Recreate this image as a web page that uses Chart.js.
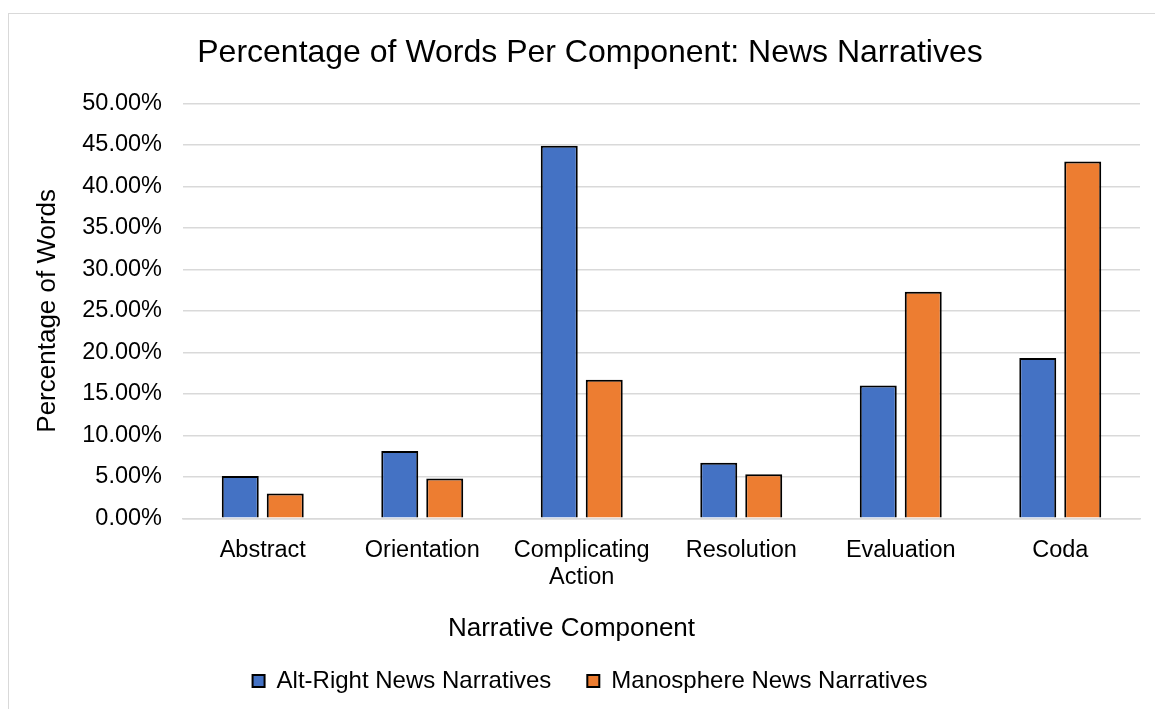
<!DOCTYPE html>
<html>
<head>
<meta charset="utf-8">
<script src="https://cdn.jsdelivr.net/npm/chart.js@4.4.1/dist/chart.umd.min.js"></script>
<style>
  html, body { margin: 0; padding: 0; background: #ffffff; overflow: hidden; width: 1155px; height: 709px; }
  #frame { position: absolute; left: 8px; top: 13px; width: 1200px; height: 720px;
           border-left: 1px solid #d9d9d9; border-top: 1px solid #d9d9d9; background: #fff; }
  #c { position: absolute; left: 0; top: 0; }
</style>
</head>
<body>
<div id="frame"><canvas id="c" width="1162" height="695"></canvas></div>
<script>
const chartTitle = 'Percentage of Words Per Component: News Narratives';
const categories = ['Abstract', 'Orientation', ['Complicating', 'Action'], 'Resolution', 'Evaluation', 'Coda'];
const seriesNames = ['Alt-Right News Narratives', 'Manosphere News Narratives'];
const altRightValues = [5.1, 8.1, 44.9, 6.7, 16.0, 19.3];
const manosphereValues = [3.0, 4.8, 16.7, 5.3, 27.3, 43.0];
const yTitle = 'Percentage of Words';
const xTitle = 'Narrative Component';
const yMin = 0, yMax = 50, yStep = 5;

const FONT = "'Liberation Sans', Arial, sans-serif";

const xTitlePlugin = {
  id: 'xTitlePlugin',
  afterDraw(chart) {
    const ctx = chart.ctx;
    ctx.save();
    ctx.font = '26px ' + FONT;
    ctx.fillStyle = '#000';
    ctx.textAlign = 'center';
    ctx.textBaseline = 'middle';
    ctx.fillText(xTitle, 562.5, 615);
    ctx.restore();
  }
};

new Chart(document.getElementById('c'), {
  type: 'bar',
  data: {
    labels: categories,
    datasets: [
      { label: seriesNames[0], data: altRightValues, backgroundColor: '#4472C4', borderColor: '#000000', borderWidth: 2 },
      { label: seriesNames[1], data: manosphereValues, backgroundColor: '#ED7D31', borderColor: '#000000', borderWidth: 2 }
    ]
  },
  options: {
    responsive: false,
    animation: false,
    devicePixelRatio: 1,
    categoryPercentage: 0.564,
    barPercentage: 0.822,
    layout: { padding: { left: 31, right: 31, top: 0, bottom: 6 } },
    plugins: {
      title: {
        display: true,
        text: chartTitle,
        color: '#000',
        font: { family: FONT, size: 32, weight: 'normal', lineHeight: 1.2 },
        padding: { top: 20, bottom: 30.9 }
      },
      legend: {
        display: true,
        position: 'bottom',
        labels: {
          color: '#000',
          font: { family: FONT, size: 24 },
          boxWidth: 12,
          boxHeight: 12,
          padding: 36
        }
      },
      tooltip: { enabled: false }
    },
    scales: {
      x: {
        grid: { display: false },
        border: { display: true, color: '#d9d9d9', width: 1.5 },
        ticks: {
          color: '#000',
          font: { family: FONT, size: 23.5, lineHeight: 1.15 },
          padding: 11,
          maxRotation: 0,
          autoSkip: false
        },
        afterFit(scale) { scale.height = 114.7; }
      },
      y: {
        min: yMin,
        max: yMax,
        grid: { color: '#d9d9d9', lineWidth: 1.5, drawTicks: false },
        border: { display: false },
        ticks: {
          stepSize: yStep,
          color: '#000',
          font: { family: FONT, size: 23.5 },
          padding: 21,
          callback: (v) => Number(v).toFixed(2) + '%'
        },
        title: {
          display: true,
          text: yTitle,
          color: '#000',
          font: { family: FONT, size: 26, lineHeight: 0.6 },
          padding: 0
        },
        afterFit(scale) { scale.width = 143; }
      }
    }
  },
  plugins: [xTitlePlugin]
});
</script>
</body>
</html>
